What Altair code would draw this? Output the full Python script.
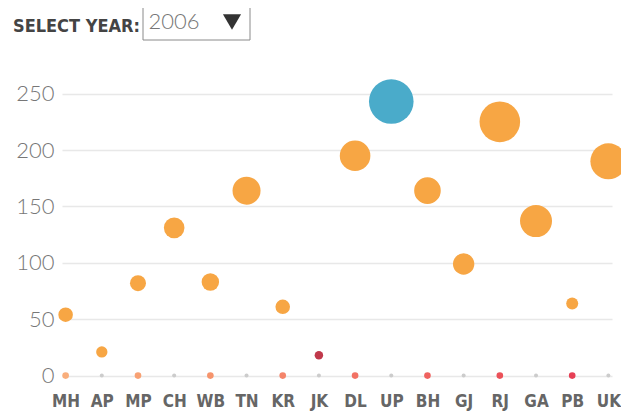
import altair as alt
import pandas as pd

states = ["MH", "AP", "MP", "CH", "WB", "TN", "KR", "JK",
          "DL", "UP", "BH", "GJ", "RJ", "GA", "PB", "UK"]
values = [54, 21, 82, 131, 83, 164, 61, 18, 195, 243, 164, 99, 225, 137, 64, 190]
weights = [53, 32, 64, 106, 76, 196, 53, 18, 234, 497, 177, 114, 412, 256, 36, 324]
status = ["normal", "normal", "normal", "normal", "normal", "normal", "normal", "lowest",
          "normal", "highest", "normal", "normal", "normal", "normal", "normal", "normal"]
marker_level = [1, None, 2, None, 3, None, 4, None, 5, None, 6, None, 7, None, 8, None]
y_ticks = [0, 50, 100, 150, 200, 250]
year = "2006"
header = "SELECT YEAR:"

status_domain = ["normal", "highest", "lowest"]
status_colors = ["#f7a644", "#4aabca", "#c0394b"]
level_domain = [1, 2, 3, 4, 5, 6, 7, 8]
level_colors = ["#f9ae7c", "#f8a173", "#f6946c", "#f4846a", "#f27264", "#ef625f", "#eb5159", "#e63f55"]

df = pd.DataFrame({"state": states, "value": values, "weight": weights, "status": status})
mk = pd.DataFrame({"state": states, "level": marker_level, "base": [0] * len(states)})
colored = mk[mk["level"].notna()].copy()
colored["level"] = colored["level"].astype(int)
grey = mk[mk["level"].isna()].copy()

LABEL_FONT = "DejaVu Sans Condensed, DejaVu Sans, sans-serif"

x_enc = alt.X("state:N", sort=states,
              scale=alt.Scale(type="point", padding=0.1),
              axis=alt.Axis(title=None, labelAngle=0, domain=False, ticks=False,
                            labelFont=LABEL_FONT, labelFontSize=17, labelFontWeight="bold",
                            labelColor="#666666", labelPadding=14, grid=False))
y_scale = alt.Scale(domain=[-3, 263], nice=False, zero=False)
y_axis = alt.Axis(title=None, values=y_ticks, domain=False, ticks=False,
                  labelFont="Lato", labelFontWeight=300, labelFontSize=22,
                  labelColor="#777777", labelPadding=8, grid=True,
                  gridColor="#e8e8e8", gridWidth=1.5)

bubbles = alt.Chart(df).mark_circle(opacity=1).encode(
    x=x_enc,
    y=alt.Y("value:Q", scale=y_scale, axis=y_axis),
    size=alt.Size("weight:Q", scale=alt.Scale(domain=[0, 500], range=[0, 2000]), legend=None),
    color=alt.Color("status:N", scale=alt.Scale(domain=status_domain, range=status_colors), legend=None),
)

dots_col = alt.Chart(colored).mark_circle(opacity=1, size=44).encode(
    x=x_enc,
    y=alt.Y("base:Q", scale=y_scale, axis=y_axis),
    fill=alt.Fill("level:O", scale=alt.Scale(domain=level_domain, range=level_colors), legend=None),
)
dots_grey = alt.Chart(grey).mark_circle(opacity=1, size=16, color="#cccccc").encode(
    x=x_enc,
    y=alt.Y("base:Q", scale=y_scale, axis=y_axis),
)

hdr = alt.Chart(pd.DataFrame({"t": [header]})).mark_text(
    align="left", baseline="alphabetic", font=LABEL_FONT, fontSize=18,
    fontWeight="bold", color="#444444"
).encode(text="t:N", x=alt.value(-49), y=alt.value(-47))

box = alt.Chart(pd.DataFrame({"t": [year]})).mark_rect(
    fill="white", stroke="#8a8a8a", strokeWidth=1
).encode(x=alt.value(81), x2=alt.value(188), y=alt.value(-72), y2=alt.value(-39))

yr = alt.Chart(pd.DataFrame({"t": [year]})).mark_text(
    align="center", baseline="alphabetic", font="Lato", fontWeight=300,
    fontSize=22, color="#777777"
).encode(text="t:N", x=alt.value(112), y=alt.value(-50))

tri = alt.Chart(pd.DataFrame({"t": [year]})).mark_point(
    shape="triangle-down", filled=True, size=330, color="#333333", opacity=1
).encode(x=alt.value(170), y=alt.value(-57))

chart = alt.layer(dots_grey, dots_col, bubbles, hdr, box, yr, tri).resolve_scale(
    color="independent", fill="independent"
).properties(
    width=550, height=300,
    autosize=alt.AutoSizeParams(type="none"),
    padding={"left": 54, "top": 71, "right": 9, "bottom": 36},
    background="white",
).configure_view(stroke=None)

chart.save("out.html", embed_options={"renderer": "svg", "actions": False})
